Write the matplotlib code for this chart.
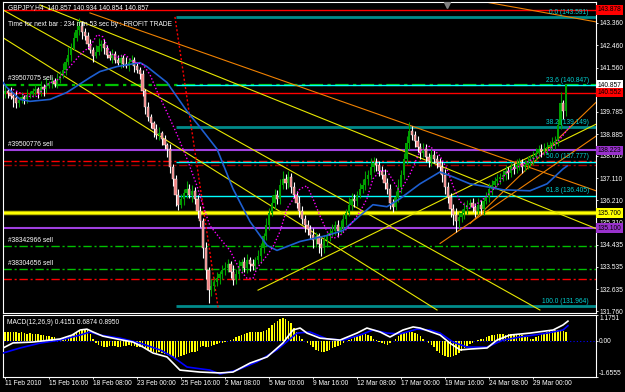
import numpy as np
import matplotlib.pyplot as plt
from matplotlib import transforms

W, H = 625, 392
plt.rcParams['font.family'] = ['Liberation Sans', 'DejaVu Sans']
FS = 4.8

# ---- candles (H4 bars, 11 Feb 2010 00:00 .. 30 Mar 2010) ----
first_open = 140.50
close = np.array([
    140.60, 140.52, 140.40, 140.32, 140.12, 140.24, 140.36, 140.28, 140.44, 140.48,
    140.60, 140.68, 140.52, 140.76, 140.68, 140.84, 140.92, 141.00, 140.88, 141.08,
    141.24, 141.48, 141.80, 142.08, 142.36, 142.76, 143.08, 143.24, 143.00, 142.84,
    142.52, 142.28, 142.04, 142.20, 142.44, 142.52, 142.36, 142.08, 141.96, 142.12,
    141.88, 141.76, 141.96, 141.72, 141.64, 141.80, 141.88, 141.64, 141.48, 141.32,
    140.60, 139.96, 139.56, 139.32, 139.08, 138.84, 138.92, 138.68, 138.44, 138.28,
    137.56, 137.08, 136.44, 136.04, 136.28, 136.52, 136.68, 136.44, 136.60, 136.28,
    135.80, 135.40, 134.28, 133.40, 132.60, 132.76, 132.92, 133.08, 133.24, 133.40,
    133.48, 133.64, 133.32, 133.00, 133.24, 133.56, 133.72, 133.48, 133.80, 133.64,
    133.56, 133.80, 133.96, 134.28, 134.76, 135.24, 135.72, 136.12, 136.44, 136.28,
    136.84, 137.08, 136.92, 137.16, 136.76, 136.44, 136.12, 135.80, 135.48, 135.24,
    135.08, 134.84, 134.60, 134.76, 134.44, 134.28, 134.60, 134.76, 134.92, 135.00,
    135.24, 135.00, 135.16, 135.48, 135.72, 136.04, 136.28, 136.20, 136.44, 136.68,
    136.84, 137.08, 137.24, 137.56, 137.72, 137.64, 137.40, 137.24, 136.92, 136.68,
    136.12, 135.96, 136.36, 136.76, 137.24, 137.88, 138.52, 139.00, 138.84, 138.60,
    138.36, 138.12, 138.28, 137.96, 137.80, 138.04, 137.88, 137.72, 137.56, 137.24,
    136.76, 136.36, 135.88, 135.64, 135.40, 135.56, 135.72, 135.88, 136.04, 136.12,
    135.96, 135.80, 136.04, 135.88, 136.20, 136.36, 136.68, 136.84, 137.00, 137.08,
    137.16, 137.24, 137.40, 137.32, 137.56, 137.48, 137.64, 137.72, 137.56, 137.64,
    137.80, 137.88, 137.96, 138.12, 138.28, 138.20, 138.28, 138.36, 138.44, 138.52,
    138.60, 139.24, 140.12, 139.80, 140.86])
wick_up = np.array([
    .20, .15, .25, .10, .30, .15, .20, .10, .25, .15,
    .15, .20, .10, .25, .15, .30, .10, .20, .15, .25,
    .20, .25, .15, .30, .20, .25, .35, .30, .20, .15,
    .15, .20, .10, .25, .30, .15, .20, .10, .15, .20,
    .10, .20, .15, .10, .25, .15, .20, .10, .15, .10,
    .15, .10, .20, .15, .10, .20, .25, .10, .15, .10,
    .20, .10, .15, .25, .20, .15, .30, .20, .25, .15,
    .15, .20, .10, .25, .15, .30, .20, .25, .15, .20,
    .25, .20, .15, .30, .20, .25, .15, .20, .25, .15,
    .20, .15, .25, .20, .15, .25, .20, .30, .25, .20,
    .25, .30, .20, .25, .15, .20, .15, .25, .20, .15,
    .20, .15, .25, .20, .15, .25, .20, .15, .20, .25,
    .15, .20, .25, .20, .15, .30, .25, .20, .15, .25,
    .25, .30, .20, .35, .25, .20, .15, .20, .25, .20,
    .20, .15, .25, .30, .20, .25, .30, .35, .20, .15,
    .20, .15, .25, .20, .15, .25, .20, .15, .20, .25,
    .25, .20, .15, .20, .25, .20, .15, .25, .20, .15,
    .20, .15, .25, .20, .15, .20, .25, .20, .15, .20,
    .15, .20, .25, .15, .20, .15, .25, .20, .15, .20,
    .20, .15, .25, .20, .15, .20, .25, .20, .15, .25,
    .20, .25, .45, .15, .05])
wick_dn = np.array([
    .15, .20, .10, .35, .20, .15, .10, .20, .15, .10,
    .10, .15, .20, .10, .25, .15, .10, .20, .10, .15,
    .15, .10, .20, .15, .25, .10, .15, .20, .30, .15,
    .20, .15, .25, .10, .15, .20, .25, .15, .10, .20,
    .15, .10, .20, .15, .10, .20, .15, .25, .15, .20,
    .20, .25, .15, .20, .30, .15, .20, .25, .15, .30,
    .25, .30, .45, .20, .15, .25, .20, .15, .30, .20,
    .30, .25, .40, .35, .50, .25, .20, .15, .25, .20,
    .20, .15, .25, .20, .15, .20, .25, .15, .20, .25,
    .15, .20, .15, .25, .20, .15, .20, .15, .25, .20,
    .20, .15, .25, .20, .25, .15, .20, .25, .20, .30,
    .25, .20, .30, .25, .35, .30, .20, .25, .20, .15,
    .20, .25, .15, .20, .25, .15, .20, .25, .20, .15,
    .15, .20, .25, .15, .20, .25, .20, .15, .25, .20,
    .25, .20, .15, .20, .25, .15, .20, .25, .20, .25,
    .20, .25, .15, .20, .25, .20, .15, .20, .25, .30,
    .30, .25, .35, .40, .45, .30, .20, .25, .20, .15,
    .20, .25, .15, .20, .25, .15, .20, .25, .15, .20,
    .20, .15, .20, .25, .15, .20, .15, .20, .25, .15,
    .15, .20, .25, .15, .20, .25, .15, .20, .15, .20,
    .25, .20, .15, .30, .20])

# moving average (blue) and shifted average (magenta dots), bar index / price
ma_x = [-0.7, 0.7, 5.5, 9.1, 16.4, 22.5, 30.9, 34.5, 40.7, 49.1, 51.6, 58.9, 66.2, 70.9,
        77.1, 82.9, 89.1, 95.3, 98.9, 107.3, 117.1, 122.9, 129.1, 133.8, 138.9, 143.6,
        150.9, 158.2, 162.9, 169.1, 175.3, 181.1, 190.9, 197.1, 202.9, 204.4]
ma_p = [140.96, 140.76, 140.28, 140.20, 140.28, 140.56, 141.16, 141.40, 141.60, 141.76, 141.60,
        140.96, 139.80, 139.16, 138.28, 136.68, 135.36, 134.40, 134.20, 134.56, 134.80, 135.00,
        135.60, 136.04, 135.96, 136.28, 136.88, 137.36, 137.16, 136.88, 136.76, 136.64, 136.60,
        136.88, 137.48, 137.60]
env_x = [2.9, 8.0, 11.6, 15.3, 19.3, 23.6, 28.0, 30.9, 33.5, 35.6, 38.2, 40.7, 43.6, 46.5,
         50.2, 52.7, 55.3, 58.9, 62.5, 66.2, 69.8, 72.0, 74.5, 78.2, 81.8, 85.5, 88.0, 90.2,
         91.6, 95.3, 97.5, 100.0, 102.5, 107.3, 109.8, 112.0, 114.5, 117.1, 119.3, 121.8,
         124.4, 126.5, 129.1, 131.6, 133.8, 136.4, 138.9, 140.7, 143.6, 147.3, 150.9, 154.5,
         158.2, 160.7, 162.9, 165.5, 169.1, 172.7, 175.3, 178.9, 182.5, 187.3, 192.0, 197.1,
         201.8, 205.5]
env_p = [140.68, 140.40, 140.40, 140.88, 141.08, 141.60, 142.16, 142.40, 142.88, 142.80, 142.16,
         141.96, 142.08, 141.80, 141.68, 141.28, 140.60, 139.76, 138.88, 137.88, 136.80, 136.00,
         135.20, 134.68, 134.20, 133.40, 133.08, 133.08, 133.48, 134.00, 134.36, 134.96, 135.88,
         136.68, 136.80, 136.28, 135.60, 134.96, 134.68, 134.80, 135.08, 135.36, 135.76, 136.28,
         137.08, 137.40, 137.40, 137.08, 136.56, 137.28, 138.20, 138.40, 138.00, 137.48, 136.80,
         136.16, 135.88, 136.16, 136.40, 136.80, 137.36, 137.60, 137.88, 138.16, 138.68, 139.20]

# trend lines: (x0, p0, x1, p1)
yellow_lines = [(-0.7, 142.76, 157.1, 131.80), (12.7, 144.08, 214.9, 135.08),
                (-0.7, 143.88, 194.5, 131.80), (92.0, 132.60, 214.9, 139.28)]
orange_lines = [(30.9, 143.76, 214.9, 136.60), (172.7, 144.24, 214.9, 143.40),
                (158.2, 134.48, 214.9, 138.80), (169.1, 135.28, 214.9, 140.16)]
red_dotted = (61.8, 143.60, 77.5, 131.88)

# fibonacci retracement
fib_start = 62
fib_levels = [0.0, 23.6, 38.2, 50.0, 61.8, 100.0]
fib_prices = [143.591, 140.847, 139.149, 137.777, 136.405, 131.964]

# order / level lines
red_solid = [143.878, 140.552]
green_orders = [140.86, 134.36, 133.44]
green_labels = ['#39507075 sell', '#38342966 sell', '#38304656 sell']
red_dashdot = [137.80, 133.04]
darkred_dashdot = [137.64]
purple_lines = [138.223, 135.10]
purple_label = '#39500776 sell'
yellow_level = 135.70
marker_arrow = (160.7, 144.08)

price_ticks = [143.360, 142.460, 141.560, 139.785, 138.885, 138.010, 137.110,
               136.210, 135.310, 134.435, 133.535, 132.635, 131.760]
box_prices = [143.878, 140.857, 140.552, 138.223, 135.700, 135.100]
box_colors = ['#FF0000', '#FFFFFF', '#FF0000', '#9932CC', '#FFFF00', '#9932CC']

# MACD(12,26,9)
macd_hist = [
    0.40, 0.40, 0.42, 0.38, 0.40, 0.35, 0.38, 0.36, 0.33, 0.35, 0.30, 0.32, 0.30, 0.28, 0.25,
    0.22, 0.20, 0.18, 0.15,
    0.10, 0.10, 0.12, 0.15, 0.20, 0.25, 0.30, 0.38, 0.45, 0.50, 0.52, 0.48,
    0.30, 0.10, -0.10, -0.20, -0.25, -0.30,
    -0.28, -0.25, -0.22, -0.25, -0.28, -0.30, -0.25, -0.22, -0.20, -0.22, -0.25, -0.28, -0.30,
    -0.30, -0.35, -0.40, -0.45, -0.50, -0.55, -0.50, -0.55, -0.60, -0.65, -0.70, -0.75, -0.80,
    -0.75, -0.70, -0.65,
    -0.60, -0.55, -0.50, -0.50, -0.45, -0.30, -0.25, -0.30, -0.30, -0.25,
    -0.20, -0.15, -0.10, -0.10, -0.05, 0.00, 0.05,
    0.10, 0.15, 0.20, 0.25, 0.30, 0.35, 0.40, 0.42, 0.40, 0.38, 0.40, 0.45, 0.50,
    0.60, 0.70, 0.80, 0.90, 1.00, 1.05, 1.00, 0.90, 0.80, 0.60, 0.40,
    0.20, 0.10, 0.00, -0.10, -0.20, -0.30,
    -0.40, -0.45, -0.50, -0.50, -0.45, -0.40, -0.35, -0.30, -0.25, -0.20, -0.10, 0.00, 0.05,
    0.10, 0.15, 0.20, 0.25, 0.30, 0.30, 0.25, 0.20, 0.10, 0.05, -0.05, -0.10, -0.15, -0.20, -0.10,
    0.00, 0.10, 0.20, 0.30, 0.35, 0.40, 0.45, 0.40, 0.35, 0.30, 0.20, 0.10,
    0.00, -0.10, -0.20, -0.30, -0.45, -0.55, -0.65, -0.70, -0.75, -0.75, -0.70, -0.65, -0.55,
    -0.45, -0.35, -0.25, -0.15, -0.10,
    0.00, 0.05, 0.10, 0.10, 0.15, 0.20, 0.25, 0.25, 0.30, 0.30, 0.30, 0.28, 0.30, 0.30, 0.32,
    0.30, 0.28, 0.25, 0.20, 0.15, 0.10, 0.10, 0.15, 0.20, 0.30,
    0.35, 0.40, 0.45, 0.45, 0.50, 0.50, 0.45, 0.45, 0.42]
macd_x = [-0.7, 2.9, 10.0, 20.0, 24.4, 27.3, 29.8, 32.0, 35.6, 40.7, 46.5, 50.2, 53.8, 58.9,
          61.1, 63.6, 70.9, 78.2, 82.9, 89.1, 95.3, 101.0, 104.7, 107.3, 109.8, 114.5, 121.8,
          128.0, 131.6, 136.4, 140.0, 144.7, 148.4, 150.9, 158.2, 161.8, 165.5, 169.0, 175.3,
          178.9, 183.6, 190.9, 199.3, 202.9, 204.7]
macd_v = [-0.33, -0.10, -0.06, 0.08, 0.26, 0.49, 0.53, 0.40, 0.21, 0.08, -0.06, -0.29, -0.56,
          -0.74, -1.02, -1.34, -1.43, -1.47, -1.43, -1.02, -0.74, -0.11, 0.49, 0.58, 0.35, 0.12,
          0.03, 0.35, 0.58, 0.40, 0.17, 0.49, 0.63, 0.58, 0.26, -0.11, -0.42, -0.38, -0.33, 0.03,
          0.26, 0.35, 0.49, 0.72, 0.895]
sig_x = [-0.7, 5.5, 12.7, 20.0, 27.3, 30.9, 34.5, 41.8, 49.1, 56.4, 61.1, 66.2, 74.5, 78.2,
         84.4, 91.6, 98.9, 106.2, 110.9, 117.1, 122.9, 129.1, 133.8, 138.9, 143.6, 149.8,
         154.5, 158.2, 162.9, 168.0, 175.3, 181.1, 187.3, 197.1, 202.9, 204.7]
sig_v = [-0.56, -0.33, -0.11, 0.03, 0.26, 0.40, 0.26, 0.12, -0.11, -0.42, -0.74, -1.20, -1.34,
         -1.52, -1.34, -0.97, -0.42, 0.35, 0.40, 0.08, 0.03, 0.26, 0.49, 0.35, 0.31, 0.53, 0.49,
         0.35, -0.06, -0.29, -0.29, 0.03, 0.17, 0.35, 0.49, 0.687]

time_ticks = [0, 16, 32, 48, 64, 80, 96, 112, 128, 144, 160, 176, 192]
time_labels = ['11 Feb 2010', '15 Feb 16:00', '18 Feb 08:00', '23 Feb 00:00', '25 Feb 16:00',
               '2 Mar 08:00', '5 Mar 00:00', '9 Mar 16:00', '12 Mar 08:00', '17 Mar 00:00',
               '19 Mar 16:00', '24 Mar 08:00', '29 Mar 00:00']

# ---- figure ----
fig = plt.figure(figsize=(W / 100, H / 100), dpi=100, facecolor='black')
ax = fig.add_axes([3 / W, 1 - 313 / H, 593 / W, 311 / H])
mx = fig.add_axes([3 / W, 1 - 377 / H, 593 / W, 62 / H])
for a in (ax, mx):
    a.set_facecolor('black')
    for s in a.spines.values():
        s.set_color('white')
        s.set_linewidth(0.8)
    a.set_xlim(-0.73, 214.9)
    a.yaxis.tick_right()
    a.tick_params(colors='white', labelsize=FS, length=1.5, width=0.6, pad=0.8)
ax.set_ylim(131.68, 144.2)
mx.set_ylim(-1.6555, 1.1751)
ax.set_xticks([])

dashdot = (0, (6, 2, 1.5, 2))

# horizontal levels
for p in red_solid:
    ax.axhline(p, color='#FF0000', lw=1, zorder=1)
for p in red_dashdot:
    ax.axhline(p, color='#FF0000', lw=1, ls=dashdot, zorder=1)
for p in darkred_dashdot:
    ax.axhline(p, color='#A00000', lw=1, ls=dashdot, zorder=1)
for i, (p, t) in enumerate(zip(green_orders, green_labels)):
    ax.axhline(p, color='#00C000', lw=1.6 if i == 0 else 1, ls=dashdot, zorder=1)
    ax.text(1.0, p + 0.1, t, color='white', fontsize=FS, va='bottom', ha='left', zorder=6)
for p in purple_lines:
    ax.axhline(p, color='#A040E0', lw=1.5, zorder=1)
ax.text(1.0, purple_lines[0] + 0.1, purple_label, color='white', fontsize=FS, va='bottom', zorder=6)
ax.axhline(yellow_level, color='#B0B000', lw=3.2, zorder=1)
ax.axhline(yellow_level, color='#FFFF00', lw=1.6, zorder=1)

# fibonacci
for lvl, p in zip(fib_levels, fib_prices):
    thick = lvl in (0.0, 38.2, 100.0)
    ax.hlines(p, fib_start, 214.9, color='#008B8B' if thick else '#00FFFF',
              lw=2 if thick else 1, zorder=1)
    ax.text(212.3, p + 0.05, f'{lvl:.1f} ({p:.3f})', color='#00D0D0', fontsize=FS,
            ha='right', va='bottom', zorder=6)

# trend lines
for x0, p0, x1, p1 in yellow_lines:
    ax.plot([x0, x1], [p0, p1], color='#E8E800', lw=0.8, zorder=2)
for x0, p0, x1, p1 in orange_lines:
    ax.plot([x0, x1], [p0, p1], color='#F08000', lw=0.8, zorder=2)
ax.plot(red_dotted[::2], red_dotted[1::2], color='#FF0000', lw=1, ls=(0, (1.5, 1.5)), zorder=2)

# candles
n = len(close)
idx = np.arange(n)
opn = np.r_[first_open, close[:-1]]
hi = np.maximum(opn, close) + wick_up
lo = np.minimum(opn, close) - wick_dn
up = close >= opn
body = np.maximum(np.abs(close - opn), 0.03)
ax.vlines(idx[up], lo[up], hi[up], color='#00A000', lw=0.8, zorder=3)
ax.vlines(idx[~up], lo[~up], hi[~up], color='white', lw=0.8, zorder=3)
ax.bar(idx[up], body[up], bottom=opn[up], width=0.75, color='#00A000', zorder=3)
ax.bar(idx[~up], body[~up], bottom=close[~up], width=0.75, color='#F08080',
       edgecolor='white', linewidth=0.3, zorder=3)

# indicators
ax.plot(ma_x, ma_p, color='#1E5FD0', lw=1.2, zorder=4)
ax.plot(env_x, env_p, color='#FF00FF', lw=1, ls=(0, (1, 1.5)), zorder=4)
ax.plot(*marker_arrow, marker='v', color='#808080', ms=4, zorder=5)

# price scale
ax.set_yticks(price_ticks)
ax.set_yticklabels([f'{p:.3f}' for p in price_ticks])
trans = transforms.blended_transform_factory(ax.transAxes, ax.transData)
for p, c in zip(box_prices, box_colors):
    ax.text(1.003, p, f'{p:.3f}', transform=trans, ha='left', va='center', fontsize=FS,
            color='black', clip_on=False, zorder=10,
            bbox=dict(boxstyle='square,pad=0.2', fc=c, ec='none'))

fig.text(8 / W, 1 - 8 / H, 'GBPJPY,H4  140.857 140.934 140.854 140.857', color='white',
         fontsize=FS, va='center')
fig.text(8 / W, 1 - 24 / H, 'Time for next bar : 234 min 53 sec by : PROFIT TRADE',
         color='white', fontsize=FS, va='center')

# MACD panel
mx.bar(idx, macd_hist, width=0.55, color='#FFFF00', zorder=2)
mx.axhline(0, color='#0000FF', lw=0.8, ls=(0, (1, 2)), zorder=1)
mx.plot(sig_x, sig_v, color='#0000FF', lw=1.2, zorder=3)
mx.plot(macd_x, macd_v, color='white', lw=1.2, zorder=4)
mx.set_yticks([1.1751, 0.0, -1.6555])
mx.set_yticklabels(['1.1751', '0.00', '-1.6555'])
ylab = mx.get_yticklabels()
ylab[0].set_va('top')
ylab[2].set_va('bottom')
mx.set_xticks(time_ticks)
mx.set_xticklabels(time_labels, ha='left')
mx.text(0.006, 0.93, 'MACD(12,26,9) 0.4151 0.6874 0.8950', transform=mx.transAxes,
        color='white', fontsize=FS, va='top')

fig.savefig('out.png', dpi=100, facecolor='black')
